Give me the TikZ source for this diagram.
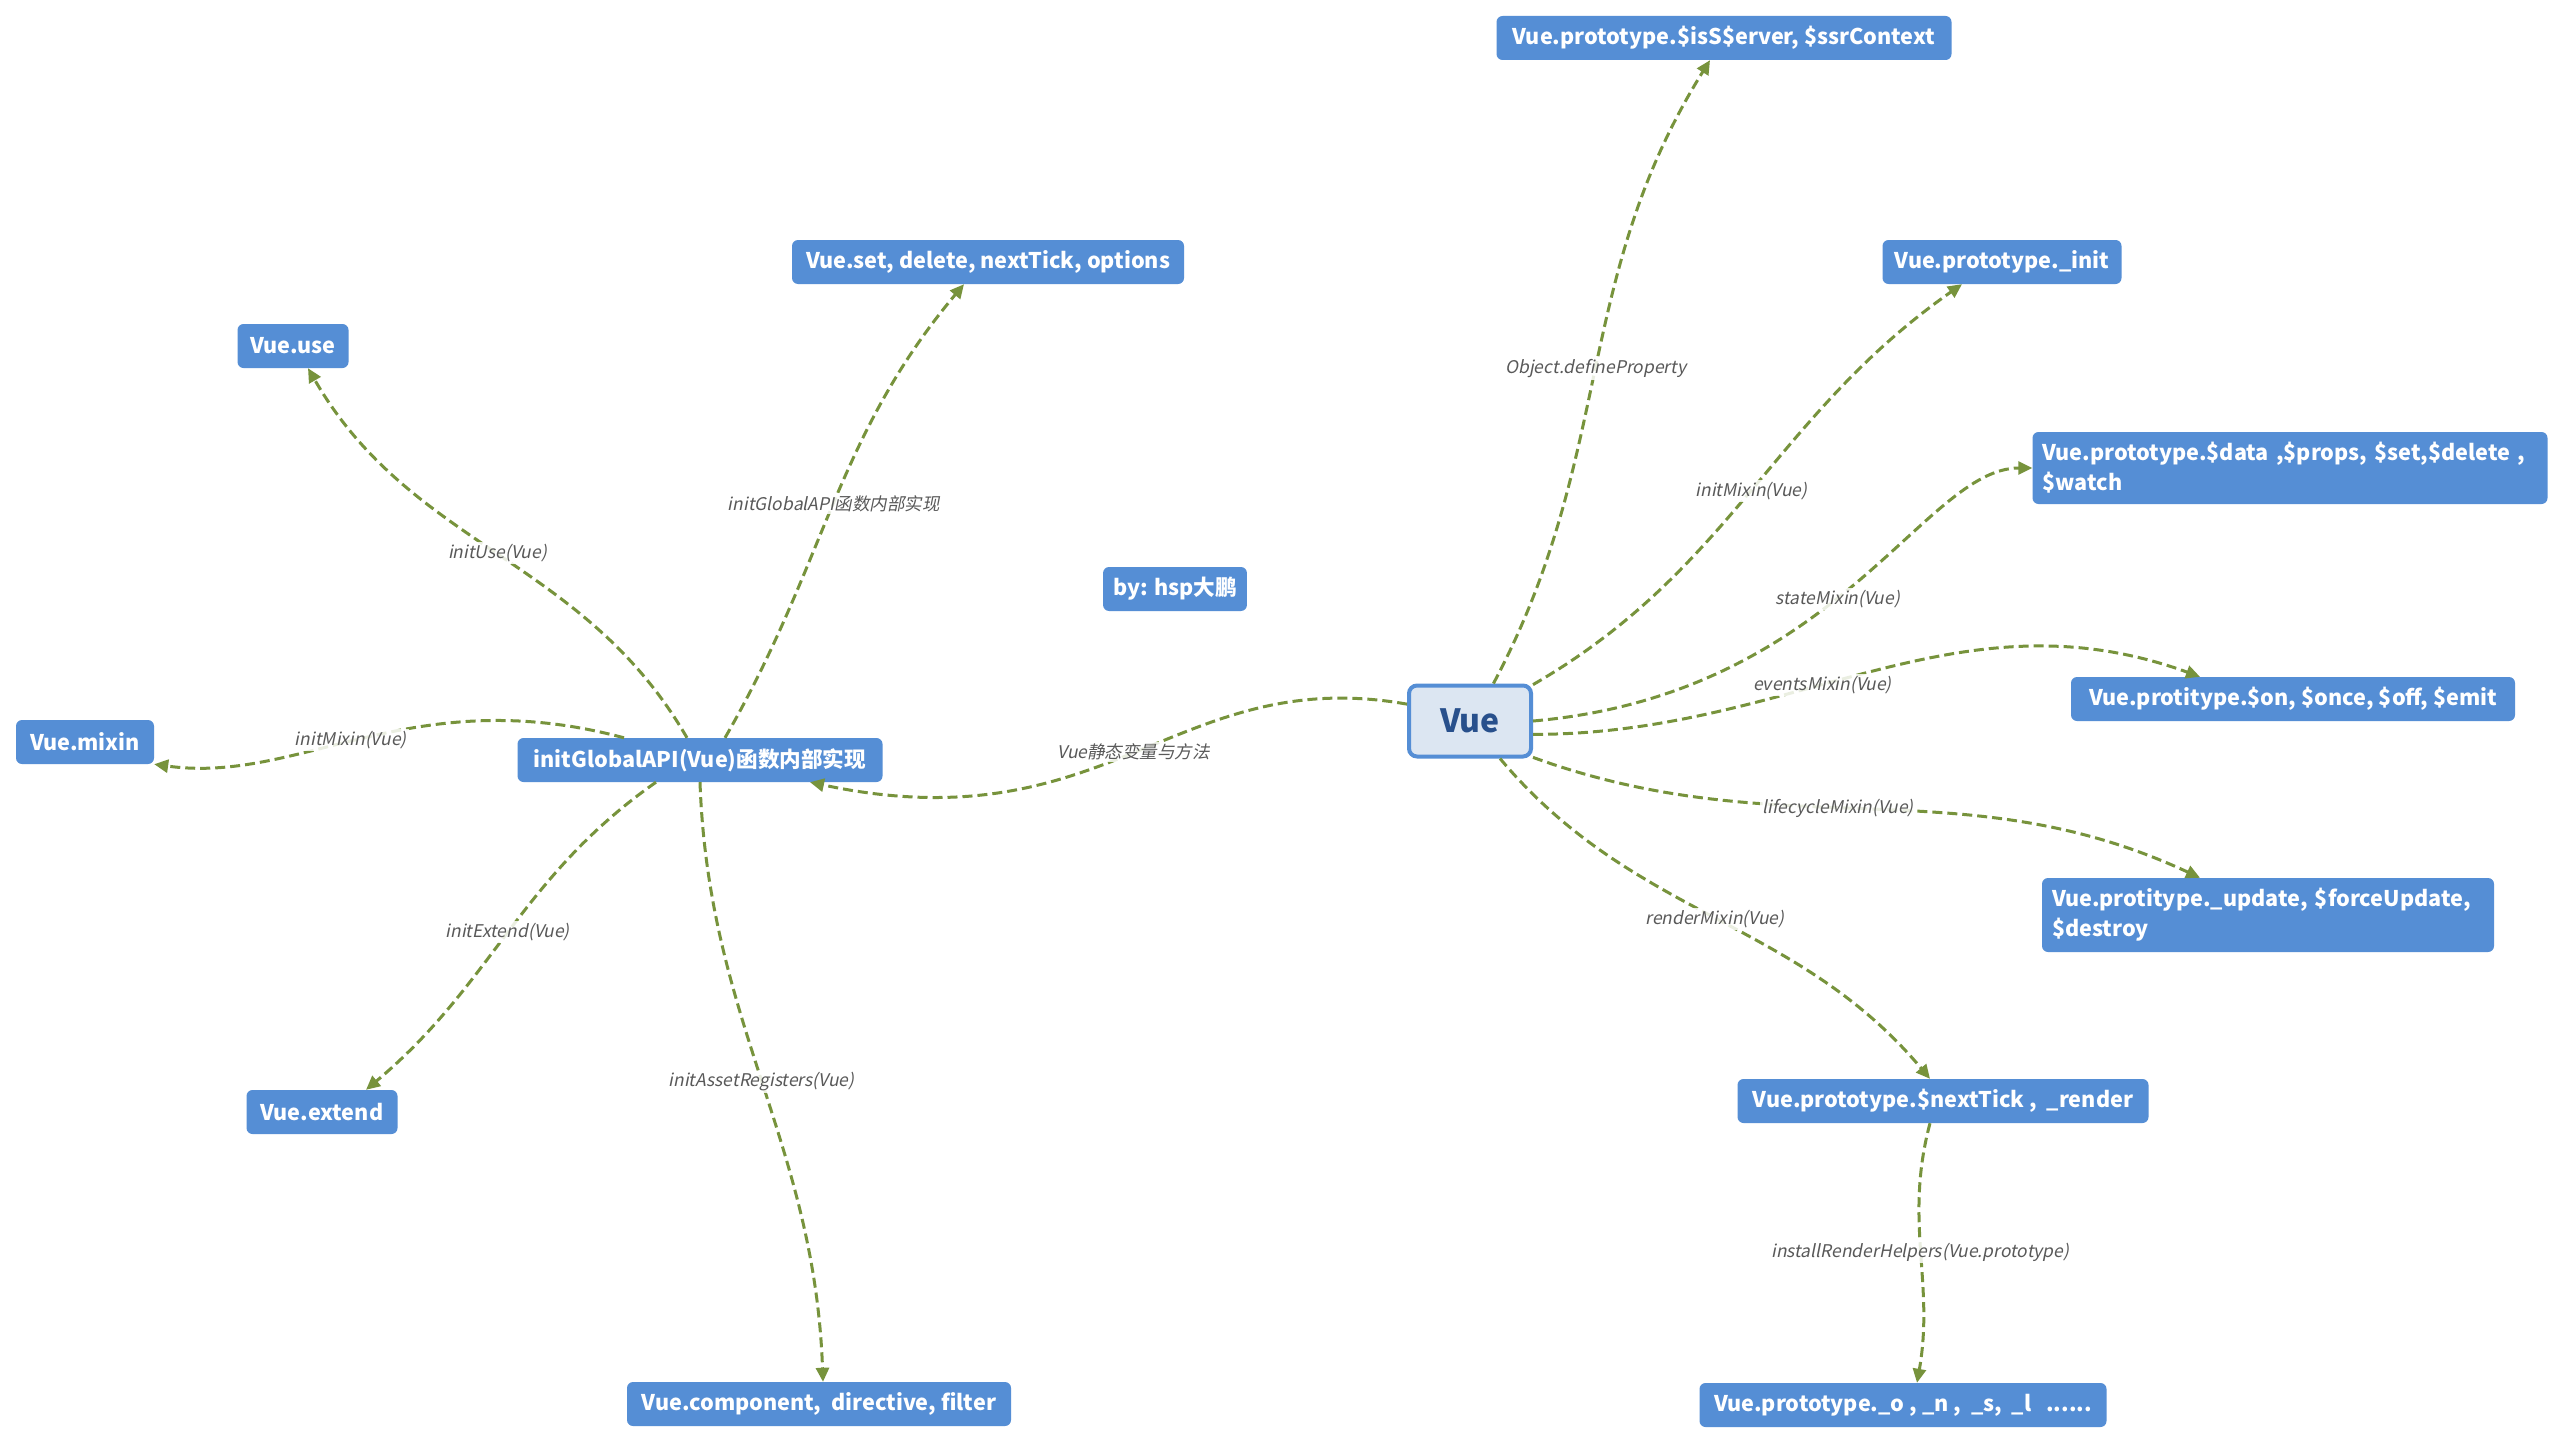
\documentclass[tikz,border=0pt]{standalone}
\usepackage{fontspec}
\setmainfont{Noto Sans CJK SC}
\newfontfamily\lblfont{Noto Sans CJK SC}[FakeSlant=0.2]
\usepackage{xcolor}
\usepackage{tikz}
\usetikzlibrary{arrows.meta}

\definecolor{topicblue}{RGB}{85,142,213}
\definecolor{rootfill}{RGB}{220,230,242}
\definecolor{roottext}{RGB}{40,80,140}
\definecolor{linkgreen}{RGB}{119,147,60}
\definecolor{lblgray}{RGB}{89,89,89}

\tikzset{
  topic/.style={fill=topicblue, rounded corners=6pt, text=white, inner xsep=10pt,
    minimum height=44pt, font=\bfseries\fontsize{21.6}{30}\selectfont},
  root/.style={draw=topicblue, line width=4pt, fill=rootfill, rounded corners=8pt,
    text=roottext, minimum width=122pt, minimum height=71pt,
    font=\bfseries\fontsize{32}{36}\selectfont},
  link/.style={draw=linkgreen, line width=3pt, dash pattern=on 10pt off 5pt,
    -{Triangle[length=14pt,width=13pt]}},
  lbl/.style={font=\lblfont\fontsize{17.5}{20}\selectfont, text=lblgray,
    fill=white, fill opacity=0.85, text opacity=1, inner sep=2pt},
}

\begin{document}
\begin{tikzpicture}[x=1pt, y=1pt]
    \path[fill=white] (0,0) rectangle (2565,-1445);
    \useasboundingbox (0,0) rectangle (2565,-1445);

    % Central topic
    \node[root] (vue) at (1470,-721) {Vue};
    \node[topic] (by) at (1175,-589) {by: hsp大鹏};

    % Right branch (prototype)
    \node[topic, minimum width=455pt] (isss) at (1724,-38) {Vue.prototype.\$isS\$erver, \$ssrContext};
    \node[topic, minimum width=239pt] (init) at (2002,-262) {Vue.prototype.\_init};
    \node[topic, minimum height=72pt, text width=495pt, align=left] (data) at (2290,-468) {Vue.prototype.\$data ,\$props, \$set,\$delete ,\\\$watch};
    \node[topic, minimum width=444pt] (on) at (2293,-699) {Vue.protitype.\$on, \$once, \$off, \$emit};
    \node[topic, minimum height=74pt, text width=432pt, align=left] (update) at (2268,-915) {Vue.protitype.\_update, \$forceUpdate,\\\$destroy};
    \node[topic, minimum width=411pt] (nexttick) at (1943,-1101) {Vue.prototype.\$nextTick ,\ \ \_render};
    \node[topic, minimum width=407pt] (o) at (1903,-1405) {Vue.prototype.\_o , \_n ,\ \ \_s,\ \ \_l\ \ \ ......};

    % Left branch (global API)
    \node[topic, minimum width=365pt] (global) at (700,-760) {initGlobalAPI(Vue)函数内部实现};
    \node[topic, minimum width=392pt] (set) at (988,-262) {Vue.set, delete, nextTick, options};
    \node[topic, minimum width=111pt] (use) at (293,-346) {Vue.use};
    \node[topic, minimum width=138pt] (mixin) at (85,-742) {Vue.mixin};
    \node[topic, minimum width=151pt] (extend) at (322,-1112) {Vue.extend};
    \node[topic, minimum width=384pt] (component) at (819,-1404) {Vue.component,\ \ directive, filter};

    % Links from Vue
    \draw[link] (vue.58) to[out=62, in=-122] node[lbl] {Object.defineProperty} ([xshift=-14pt]isss.south);
    \draw[link] (vue.30) to[out=30, in=-145] node[lbl] {initMixin(Vue)} ([xshift=-40pt]init.south);
    \draw[link] (vue.east) to[out=5, in=180, out looseness=1.4, in looseness=0.5] node[lbl, pos=0.46] {stateMixin(Vue)} (data.west);
    \draw[link] (vue.-12) to[out=0, in=160] node[lbl, pos=0.42] {eventsMixin(Vue)} ([xshift=-93pt]on.north);
    \draw[link] (vue.-30) to[out=-20, in=155] node[lbl, pos=0.45] {lifecycleMixin(Vue)} ([xshift=-68pt]update.north);
    \draw[link] ([xshift=30pt]vue.south) to[out=-50, in=130] node[lbl] {renderMixin(Vue)} ([xshift=-13pt]nexttick.north);
    \draw[link] ([xshift=-13pt]nexttick.south) to[out=-105, in=80] node[lbl] {installRenderHelpers(Vue.prototype)} ([xshift=14pt]o.north);
    \draw[link] (vue.165) to[out=170, in=-12, in looseness=1.3] node[lbl] {Vue静态变量与方法} ([xshift=110pt]global.south);

    % Links from initGlobalAPI
    \draw[link] ([xshift=25pt]global.north) to[out=60, in=-130] node[lbl] {initGlobalAPI函数内部实现} ([xshift=-24pt]set.south);
    \draw[link] ([xshift=-13pt]global.north) to[out=120, in=-60] node[lbl] {initUse(Vue)} ([xshift=15pt]use.south);
    \draw[link] ([xshift=-76pt]global.north) to[out=165, in=-8, out looseness=1.2, in looseness=0.8] node[lbl, pos=0.53] {initMixin(Vue)} (mixin.south east);
    \draw[link] ([xshift=-44pt]global.south) to[out=-145, in=40] node[lbl] {initExtend(Vue)} ([xshift=44pt]extend.north);
    \draw[link] (global.south) to[out=-88, in=92] node[lbl] {initAssetRegisters(Vue)} ([xshift=4pt]component.north);
\end{tikzpicture}
\end{document}
